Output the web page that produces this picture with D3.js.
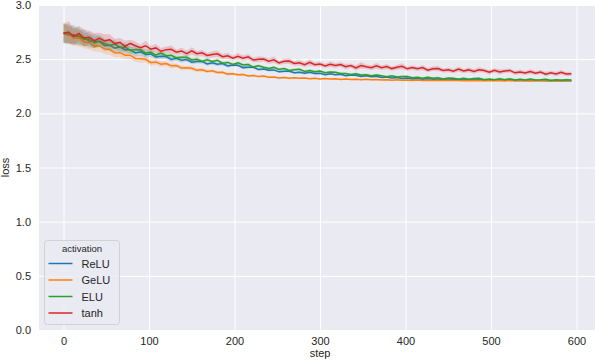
<!DOCTYPE html>
<html>
<head>
<meta charset="utf-8">
<script src="https://cdn.jsdelivr.net/npm/d3@7"></script>
<style>
    body { margin: 0; background: #fff; }
    svg { display: block; font-family: "Liberation Sans", Arial, sans-serif; }
</style>
</head>
<body>
<svg id="loss-chart"></svg>
<script>
// sampled every 6 steps
const steps = [0,6,12,18,24,30,36,42,48,54,60,66,72,78,84,90,96,102,108,114,
    120,126,132,138,144,150,156,162,168,174,180,186,192,198,204,210,216,222,228,234,
    240,246,252,258,264,270,276,282,288,294,300,306,312,318,324,330,336,342,348,354,
    360,366,372,378,384,390,396,402,408,414,420,426,432,438,444,450,456,462,468,474,
    480,486,492,498,504,510,516,522,528,534,540,546,552,558,564,570,576,582,588,594];

const activations = ["ReLU", "GeLU", "ELU", "tanh"];
const colors = ["#1f77b4", "#ff7f0e", "#2ca02c", "#d62728"];

const reluLoss = [2.742,2.720,2.728,2.698,2.700,2.665,2.668,2.662,2.627,2.627,
    2.602,2.612,2.587,2.587,2.557,2.567,2.543,2.548,2.521,2.527,
    2.524,2.498,2.508,2.490,2.497,2.472,2.478,2.479,2.456,2.466,
    2.453,2.459,2.437,2.446,2.443,2.422,2.426,2.426,2.405,2.410,
    2.397,2.401,2.383,2.389,2.389,2.374,2.380,2.370,2.378,2.367,
    2.370,2.357,2.365,2.356,2.361,2.348,2.353,2.352,2.341,2.346,
    2.338,2.342,2.331,2.335,2.326,2.331,2.321,2.325,2.317,2.321,
    2.315,2.320,2.314,2.317,2.311,2.315,2.310,2.315,2.308,2.312,
    2.307,2.310,2.306,2.309,2.305,2.308,2.304,2.307,2.303,2.305,
    2.302,2.305,2.302,2.303,2.301,2.303,2.301,2.302,2.300,2.301];

const geluLoss = [2.740,2.728,2.694,2.698,2.660,2.654,2.620,2.624,2.593,2.589,
    2.558,2.560,2.536,2.537,2.507,2.504,2.499,2.468,2.473,2.454,
    2.460,2.439,2.441,2.419,2.421,2.416,2.397,2.402,2.387,2.392,
    2.377,2.379,2.362,2.366,2.356,2.359,2.345,2.350,2.339,2.344,
    2.333,2.336,2.327,2.331,2.324,2.329,2.323,2.327,2.319,2.323,
    2.318,2.322,2.316,2.319,2.313,2.317,2.312,2.315,2.310,2.314,
    2.309,2.312,2.308,2.311,2.306,2.309,2.305,2.308,2.304,2.307,
    2.304,2.306,2.302,2.305,2.302,2.305,2.302,2.303,2.301,2.304,
    2.301,2.302,2.300,2.302,2.301,2.300,2.302,2.300,2.301,2.300,
    2.301,2.299,2.301,2.300,2.300,2.301,2.299,2.300,2.301,2.300];

const eluLoss = [2.738,2.738,2.712,2.718,2.682,2.687,2.651,2.668,2.646,2.627,
    2.639,2.608,2.613,2.581,2.590,2.586,2.558,2.564,2.538,2.557,
    2.532,2.536,2.512,2.517,2.518,2.493,2.499,2.479,2.494,2.478,
    2.489,2.463,2.470,2.452,2.466,2.446,2.450,2.427,2.440,2.426,
    2.414,2.424,2.405,2.413,2.395,2.403,2.406,2.387,2.396,2.385,
    2.391,2.375,2.381,2.379,2.367,2.368,2.358,2.366,2.353,2.357,
    2.346,2.354,2.348,2.338,2.346,2.336,2.341,2.341,2.328,2.332,
    2.325,2.334,2.324,2.329,2.318,2.325,2.323,2.314,2.324,2.315,
    2.321,2.324,2.311,2.316,2.311,2.320,2.311,2.318,2.307,2.315,
    2.307,2.317,2.308,2.309,2.314,2.304,2.311,2.306,2.311,2.307];

const tanhLoss = [2.740,2.751,2.708,2.737,2.695,2.703,2.671,2.693,2.669,2.680,
    2.644,2.656,2.619,2.645,2.624,2.606,2.624,2.592,2.604,2.573,
    2.588,2.591,2.564,2.576,2.551,2.576,2.550,2.558,2.535,2.544,
    2.549,2.523,2.531,2.509,2.527,2.509,2.521,2.492,2.500,2.501,
    2.482,2.494,2.466,2.480,2.482,2.460,2.467,2.450,2.470,2.449,
    2.456,2.438,2.453,2.441,2.451,2.430,2.441,2.420,2.441,2.430,
    2.422,2.438,2.421,2.432,2.413,2.425,2.434,2.411,2.423,2.411,
    2.422,2.399,2.412,2.413,2.396,2.402,2.389,2.409,2.391,2.401,
    2.386,2.403,2.395,2.379,2.397,2.382,2.391,2.396,2.374,2.382,
    2.372,2.386,2.371,2.381,2.362,2.375,2.363,2.379,2.363,2.365];

// half width of the 95% ci band
const reluBand = [0.095,0.08,0.09,0.07,0.075,0.06,0.065,0.05,0.055,0.045,
    0.04,0.045,0.035,0.038,0.03,0.032,0.028,0.03,0.024,0.026,
    0.022,0.024,0.02,0.022,0.018,0.02,0.017,0.019,0.016,0.018,
    0.015,0.017,0.014,0.016,0.013,0.015,0.012,0.014,0.012,0.013,
    0.011,0.012,0.011,0.012,0.010,0.011,0.010,0.011,0.010,0.010,
    0.009,0.010,0.009,0.010,0.009,0.009,0.008,0.009,0.009,0.008,
    0.008,0.009,0.008,0.008,0.007,0.008,0.008,0.007,0.007,0.008,
    0.007,0.007,0.006,0.007,0.007,0.006,0.006,0.007,0.006,0.006,
    0.006,0.006,0.005,0.006,0.006,0.005,0.005,0.006,0.005,0.005,
    0.005,0.005,0.005,0.004,0.005,0.005,0.004,0.005,0.004,0.005];

const geluBand = [0.09,0.085,0.07,0.08,0.06,0.065,0.05,0.055,0.045,0.05,
    0.04,0.042,0.035,0.038,0.03,0.034,0.028,0.03,0.025,0.027,
    0.022,0.024,0.02,0.021,0.018,0.02,0.016,0.018,0.015,0.016,
    0.013,0.015,0.012,0.013,0.011,0.012,0.010,0.011,0.009,0.010,
    0.009,0.009,0.008,0.009,0.008,0.008,0.007,0.008,0.007,0.007,
    0.007,0.006,0.007,0.006,0.006,0.006,0.005,0.006,0.005,0.006,
    0.005,0.005,0.005,0.005,0.004,0.005,0.004,0.005,0.004,0.004,
    0.004,0.004,0.004,0.003,0.004,0.004,0.003,0.004,0.003,0.003,
    0.003,0.004,0.003,0.003,0.003,0.003,0.003,0.002,0.003,0.003,
    0.003,0.002,0.003,0.003,0.002,0.003,0.002,0.003,0.002,0.002];

const eluBand = [0.08,0.09,0.07,0.08,0.06,0.065,0.05,0.055,0.045,0.045,
    0.04,0.035,0.04,0.03,0.032,0.028,0.03,0.025,0.028,0.022,
    0.024,0.02,0.022,0.018,0.02,0.017,0.02,0.016,0.018,0.015,
    0.017,0.015,0.016,0.014,0.016,0.013,0.015,0.013,0.014,0.012,
    0.013,0.012,0.014,0.011,0.012,0.013,0.011,0.012,0.011,0.012,
    0.011,0.010,0.012,0.010,0.011,0.009,0.011,0.010,0.012,0.010,
    0.010,0.011,0.009,0.010,0.011,0.010,0.009,0.011,0.010,0.010,
    0.009,0.010,0.011,0.009,0.010,0.010,0.009,0.011,0.010,0.009,
    0.010,0.009,0.010,0.011,0.009,0.010,0.009,0.010,0.010,0.009,
    0.010,0.009,0.010,0.009,0.010,0.010,0.009,0.010,0.009,0.010];

const tanhBand = [0.09,0.10,0.08,0.07,0.08,0.06,0.07,0.05,0.06,0.05,
    0.045,0.04,0.05,0.035,0.04,0.03,0.045,0.03,0.035,0.03,
    0.03,0.035,0.025,0.03,0.028,0.035,0.025,0.03,0.022,0.028,
    0.03,0.025,0.028,0.022,0.03,0.024,0.026,0.02,0.028,0.022,
    0.025,0.03,0.02,0.024,0.026,0.02,0.025,0.022,0.03,0.02,
    0.024,0.02,0.026,0.022,0.02,0.025,0.02,0.024,0.03,0.02,
    0.022,0.026,0.02,0.024,0.02,0.023,0.028,0.02,0.022,0.02,
    0.024,0.02,0.022,0.025,0.018,0.022,0.02,0.024,0.019,0.022,
    0.02,0.023,0.018,0.022,0.02,0.024,0.018,0.021,0.02,0.022,
    0.018,0.022,0.02,0.019,0.023,0.018,0.02,0.022,0.018,0.02];

const yTicks = [0.0, 0.5, 1.0, 1.5, 2.0, 2.5, 3.0];
const xTicks = [0, 100, 200, 300, 400, 500, 600];

function plotLoss() {
    const width = 595;
    const height = 361;
    const left = 39, right = 595, top = 5, bottom = 330;

    const series = activations.map((name, i) => ({
        name: name,
        color: colors[i],
        loss: [reluLoss, geluLoss, eluLoss, tanhLoss][i],
        band: [reluBand, geluBand, eluBand, tanhBand][i]
    }));

    const xScale = d3.scaleLinear()
        .domain([-28.7, 621.6])
        .range([left, right]);

    const yScale = d3.scaleLinear()
        .domain([0, 3])
        .range([bottom, top]);

    const svg = d3.select("#loss-chart")
        .attr("width", width)
        .attr("height", height);

    // darkgrid background
    svg.append("rect")
        .attr("x", left)
        .attr("y", top)
        .attr("width", right - left)
        .attr("height", bottom - top)
        .attr("fill", "#eaeaf2");

    // axes double as the white grid
    const xAxis = d3.axisBottom(xScale)
        .tickValues(xTicks)
        .tickSize(-(bottom - top))
        .tickPadding(7)
        .tickFormat(d3.format("d"));

    const yAxis = d3.axisLeft(yScale)
        .tickValues(yTicks)
        .tickSize(-(right - left))
        .tickPadding(8)
        .tickFormat(d3.format(".1f"));

    [svg.append("g").attr("transform", `translate(0, ${bottom})`).call(xAxis),
     svg.append("g").attr("transform", `translate(${left}, 0)`).call(yAxis)]
        .forEach(g => {
            g.select(".domain").remove();
            g.selectAll(".tick line").attr("stroke", "#fff").attr("stroke-width", 1);
            g.selectAll(".tick text")
                .attr("fill", "#262626")
                .style("font-size", "11px");
        });

    const plot = svg.append("g");

    const area = d3.area()
        .x((d, i) => xScale(steps[i]))
        .y0(d => yScale(d[0] - d[1]))
        .y1(d => yScale(d[0] + d[1]));

    const line = d3.line()
        .x((d, i) => xScale(steps[i]))
        .y(d => yScale(d));

    series.forEach(s => {
        plot.append("path")
            .datum(s.loss.map((v, i) => [v, s.band[i]]))
            .attr("d", area)
            .attr("fill", s.color)
            .attr("fill-opacity", 0.2);

        plot.append("path")
            .datum(s.loss)
            .attr("d", line)
            .attr("fill", "none")
            .attr("stroke", s.color)
            .attr("stroke-width", 1.5);
    });

    // Add x-axis label
    svg.append("text")
        .attr("x", xScale(300))
        .attr("y", 357)
        .style("text-anchor", "middle")
        .style("font-size", "11px")
        .attr("fill", "#262626")
        .text("step");

    // Add the y-axis label
    svg.append("text")
        .attr("transform", "rotate(-90)")
        .attr("x", -yScale(1.5))
        .attr("y", 9)
        .style("text-anchor", "middle")
        .style("font-size", "11px")
        .attr("fill", "#262626")
        .text("loss");

    // legend
    const legend = svg.append("g").attr("transform", "translate(44.5, 240.5)");

    legend.append("rect")
        .attr("width", 75)
        .attr("height", 84)
        .attr("rx", 3)
        .attr("fill", "#eaeaf2")
        .attr("fill-opacity", 0.8)
        .attr("stroke", "#cccccc")
        .attr("stroke-width", 0.8);

    legend.append("text")
        .attr("x", 37.5)
        .attr("y", 11.5)
        .style("text-anchor", "middle")
        .style("font-size", "9.5px")
        .attr("fill", "#262626")
        .text("activation");

    const rows = legend.selectAll(".row")
        .data(series)
        .enter()
        .append("g")
        .attr("transform", (d, i) => `translate(0, ${23 + i * 16.5})`);

    rows.append("line")
        .attr("x1", 4)
        .attr("x2", 28)
        .attr("stroke", d => d.color)
        .attr("stroke-width", 1.5);

    rows.append("text")
        .attr("x", 37)
        .attr("y", 4)
        .style("font-size", "11px")
        .attr("fill", "#262626")
        .text(d => d.name);
}

plotLoss();
</script>
</body>
</html>
